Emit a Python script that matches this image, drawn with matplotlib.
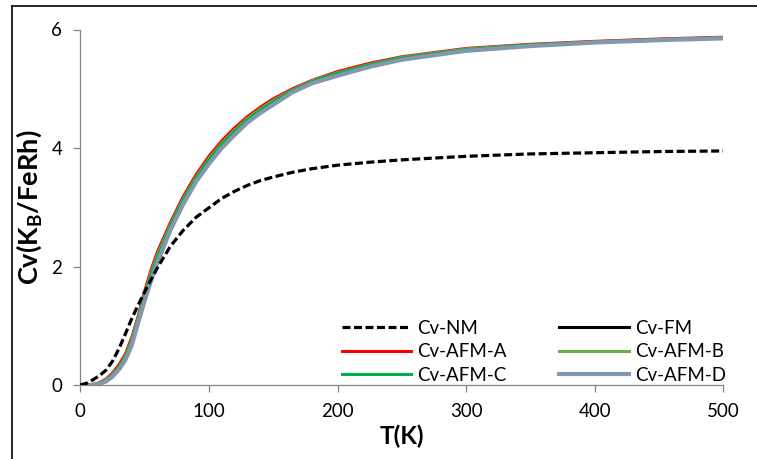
import matplotlib
matplotlib.use("Agg")
import matplotlib.pyplot as plt
from matplotlib.lines import Line2D

T = [0, 5, 10, 15, 20, 25, 30, 35, 40, 45, 50, 55, 60, 70, 80, 90, 100, 110, 120, 130, 140, 150,
     165, 180, 200, 225, 250, 300, 350, 400, 450, 500]
cv_nm = [0, 0.03, 0.09, 0.16, 0.25, 0.40, 0.61, 0.86, 1.12, 1.35, 1.57, 1.78, 1.98, 2.34, 2.61, 2.83, 2.99, 3.15, 3.27, 3.37, 3.45, 3.51,
         3.59, 3.65, 3.71, 3.76, 3.80, 3.86, 3.90, 3.92, 3.94, 3.95]
cv_fm = [0, 0, 0.0, 0.03, 0.07, 0.16, 0.29, 0.46, 0.72, 1.09, 1.48, 1.82, 2.13, 2.66, 3.10, 3.47, 3.78, 4.04, 4.26, 4.47, 4.63, 4.77,
         4.96, 5.11, 5.25, 5.39, 5.51, 5.65, 5.73, 5.79, 5.83, 5.86]
cv_afm_a = [0, 0, 0.01, 0.04, 0.10, 0.20, 0.34, 0.52, 0.80, 1.16, 1.58, 1.94, 2.25, 2.74, 3.18, 3.55, 3.86, 4.12, 4.34, 4.53, 4.69, 4.83,
            5.00, 5.14, 5.29, 5.43, 5.54, 5.68, 5.75, 5.80, 5.84, 5.87]
cv_afm_b = [0, 0, 0.01, 0.03, 0.09, 0.18, 0.30, 0.49, 0.76, 1.13, 1.53, 1.89, 2.20, 2.70, 3.14, 3.51, 3.82, 4.08, 4.30, 4.50, 4.66, 4.80,
            4.98, 5.13, 5.27, 5.41, 5.53, 5.67, 5.74, 5.79, 5.83, 5.86]
cv_afm_c = [0, 0, 0.01, 0.03, 0.08, 0.17, 0.30, 0.47, 0.74, 1.11, 1.50, 1.85, 2.16, 2.68, 3.12, 3.49, 3.80, 4.06, 4.28, 4.48, 4.64, 4.78,
            4.97, 5.12, 5.26, 5.40, 5.52, 5.66, 5.74, 5.79, 5.83, 5.86]
cv_afm_d = [0, 0, 0.0, 0.02, 0.06, 0.14, 0.26, 0.42, 0.67, 1.05, 1.42, 1.76, 2.07, 2.61, 3.05, 3.43, 3.73, 4.00, 4.22, 4.43, 4.59, 4.73,
            4.94, 5.09, 5.22, 5.37, 5.49, 5.64, 5.72, 5.78, 5.82, 5.85]

x_ticks = [0, 100, 200, 300, 400, 500]
y_ticks = [0, 2, 4, 6]

plt.rcParams['font.family'] = ['Lato', 'DejaVu Sans']

W, H = 757, 459
fig = plt.figure(figsize=(W / 100, H / 100), dpi=100)
ax = fig.add_axes([80.3 / W, 1 - 385 / H, (723.3 - 80.3) / W, (385 - 29.5) / H])

l_fm, = ax.plot(T, cv_fm, color='black', lw=2.2, label='Cv-FM', zorder=2)
l_a, = ax.plot(T, cv_afm_a, color='#FF0000', lw=2.2, label='Cv-AFM-A', zorder=2)
l_b, = ax.plot(T, cv_afm_b, color='#70AD47', lw=2.2, label='Cv-AFM-B', zorder=2)
l_c, = ax.plot(T, cv_afm_c, color='#00B050', lw=2.2, label='Cv-AFM-C', zorder=2)
l_d, = ax.plot(T, cv_afm_d, color='#8497B0', lw=3.0, label='Cv-AFM-D', zorder=2)
l_nm, = ax.plot(T, cv_nm, color='black', lw=2.3, ls=(0, (2.5, 1.1)), label='Cv-NM', zorder=3)

ax.set_xlim(0, 500)
ax.set_ylim(0, 6)
ax.set_xticks(x_ticks)
ax.set_yticks(y_ticks)
for s in ['top', 'right']:
    ax.spines[s].set_visible(False)
for s in ['left', 'bottom']:
    ax.spines[s].set_color('#868686')
    ax.spines[s].set_linewidth(0.9)
ax.tick_params(axis='both', direction='out', length=5, width=0.9, color='#868686',
               labelsize=13.5, labelcolor='black')
ax.tick_params(axis='y', pad=8)
ax.tick_params(axis='x', pad=8)

ax.set_xlabel('T(K)', fontsize=17.5, fontweight='bold', labelpad=3)
ax.set_ylabel('Cv(K$_\\mathregular{B}$/FeRh)', fontsize=19.5, fontweight='bold', labelpad=5)

handles = [l_nm, l_a, l_c, l_fm, l_b, l_d]
leg = ax.legend(handles=handles, labels=[h.get_label() for h in handles], ncol=2,
                loc='lower left', bbox_to_anchor=(342 / W, 1 - 384 / H),
                bbox_transform=fig.transFigure, frameon=False, fontsize=13.5,
                handlelength=3.7, handletextpad=0.32, columnspacing=2.8,
                labelspacing=0.36, borderpad=0, borderaxespad=0)

# outer chart border (left and top visible)
fig.add_artist(Line2D([12 / W, 12 / W], [0, 1 - 6 / H], color='black', lw=1.2, transform=fig.transFigure))
fig.add_artist(Line2D([12 / W, 1], [1 - 6 / H, 1 - 6 / H], color='black', lw=1.2, transform=fig.transFigure))

fig.savefig('out.png', dpi=100)
